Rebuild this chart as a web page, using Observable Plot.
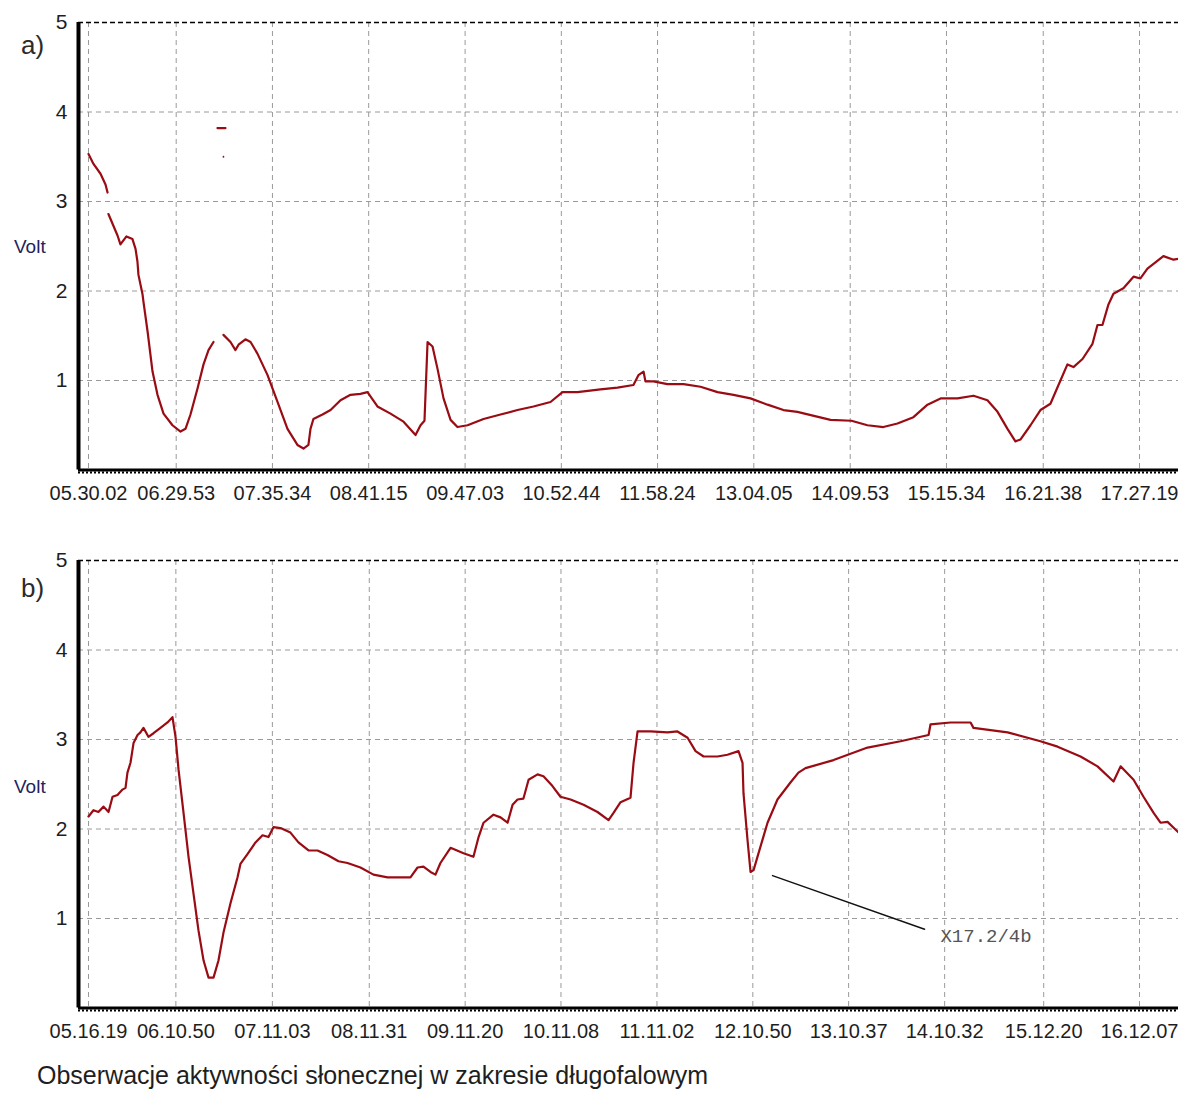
<!DOCTYPE html>
<html>
<head>
<meta charset="utf-8">
<script src="https://cdn.jsdelivr.net/npm/d3@7"></script>
<script src="https://cdn.jsdelivr.net/npm/@observablehq/plot@0.6"></script>
<style>
  html, body { margin: 0; padding: 0; background: #fff; }
  #page { position: relative; width: 1178px; height: 1108px; overflow: hidden; font-family: "Liberation Sans", Arial, sans-serif; }
  .panel { position: absolute; left: 0; }
  .lbl { position: absolute; color: #2b2b2b; white-space: nowrap; }
  .volt { position: absolute; color: #23235e; font-size: 19px; white-space: nowrap; }
  #caption { position: absolute; left: 37px; top: 1061px; font-size: 25px; color: #1e1e1e; white-space: nowrap; }
</style>
</head>
<body>
<div id="page">
  <div class="panel" id="pa" style="top:0px"></div>
  <div class="panel" id="pb" style="top:538px"></div>
  <div class="lbl" style="left:21px; top:30px; font-size:26px;">a)</div>
  <div class="lbl" style="left:21px; top:573px; font-size:26px;">b)</div>
  <div class="volt" style="left:14px; top:236px;">Volt</div>
  <div class="volt" style="left:14px; top:776px;">Volt</div>
  <div id="caption">Obserwacje aktywności słonecznej w zakresie długofalowym</div>
</div>
<script>
// ---------- Panel a: tick labels (clock time) ----------
const ticksA = ["05.30.02","06.29.53","07.35.34","08.41.15","09.47.03","10.52.44","11.58.24","13.04.05","14.09.53","15.15.34","16.21.38","17.27.19"];
// minutes after first tick / volts, one pair of arrays per unbroken piece of the trace
const a1Time = [0,3.4,8.2,11.6,13.0];
const a1Volt = [3.53,3.42,3.31,3.19,3.10];
const a2Time = [13.6,19.8,21.8,25.9,30.0,32.1,33.4,34.1,36.9,37.5,40.3,43.7,47.1,51.2,57.3,62.8,66.2,69.6,74.4,78.5,81.9,85.3];
const a2Volt = [2.86,2.62,2.52,2.61,2.58,2.47,2.33,2.18,1.96,1.88,1.55,1.10,0.84,0.63,0.50,0.43,0.46,0.62,0.91,1.18,1.34,1.43];
const a3Time = [92.1,96.9,100.3,102.4,107.1,110.6,115.3,122.2,129.0,135.8,142.6,146.7,150.1,151.5,153.5,159.7,165.2,172.0,178.8,185.6,190.4,197.2,206.1,215.0,223.2,226.6,229.3,231.4,234.8,238.2,242.3,247.1,251.8,258.7,269.6,281.2,292.8,303.7,315.3,323.5,333.7,349.4,361.0,371.9,375.3,378.8,380.1,385.6,395.1,406.1,417.7,429.3,440.2,451.8,463.4,474.3,483.8,506.4,520.7,531.6,542.5,552.1,563.0,572.6,581.5,593.1,604.0,613.5,620.4,627.2,632.6,636.0,642.9,649.7,656.5,662.0,668.1,672.2,678.4,685.2,688.6,692.0,696.1,699.5,706.3,713.2,717.9,722.7,733.6,740.5,743.9];
const a3Volt = [1.51,1.43,1.34,1.40,1.46,1.43,1.30,1.06,0.76,0.46,0.28,0.24,0.28,0.46,0.57,0.62,0.67,0.78,0.84,0.85,0.87,0.71,0.63,0.54,0.39,0.50,0.55,1.43,1.38,1.13,0.80,0.56,0.48,0.50,0.57,0.62,0.67,0.71,0.76,0.87,0.87,0.90,0.92,0.95,1.06,1.10,0.99,0.99,0.96,0.96,0.93,0.87,0.84,0.80,0.73,0.67,0.65,0.56,0.55,0.50,0.48,0.52,0.59,0.73,0.80,0.80,0.83,0.78,0.65,0.46,0.32,0.34,0.50,0.67,0.74,0.95,1.18,1.15,1.24,1.41,1.62,1.62,1.85,1.97,2.03,2.16,2.14,2.25,2.39,2.35,2.36];
// isolated short blip near 3.8 V and a stray dot
const a4Time = [88.0,93.5];
const a4Volt = [3.82,3.82];
const strayTime = [92.1];
const strayVolt = [3.5];

// ---------- Panel b ----------
const ticksB = ["05.16.19","06.10.50","07.11.03","08.11.31","09.11.20","10.11.08","11.11.02","12.10.50","13.10.37","14.10.32","15.12.20","16.12.07"];
const bTime = [0,3.1,6.2,9.4,12.5,15.0,18.1,21.2,23.1,24.3,26.2,28.1,30.6,32.4,34.3,37.4,40.6,44.9,49.3,52.4,54.3,56.2,59.3,62.4,65.5,68.6,71.8,74.9,78.0,81.1,84.2,88.6,93.0,94.8,99.2,104.2,108.6,112.3,115.4,119.8,126.0,131.0,137.3,142.9,149.1,156.0,161.6,169.7,177.8,186.6,200.9,205.3,209.0,213.4,216.5,219.6,225.9,234.0,240.2,243.4,246.5,252.7,257.1,261.5,264.6,267.7,271.4,274.6,280.2,283.9,289.5,294.5,300.8,308.9,317.6,324.5,327.6,332.0,338.2,340.1,342.6,350.7,361.3,367.5,373.8,378.8,383.8,392.5,398.7,405.6,408.1,408.7,411.2,413.1,415.0,418.1,423.7,429.9,438.0,443.0,447.4,464.9,486.1,506.7,524.2,525.4,537.9,550.4,552.2,573.5,594.0,604.7,619.0,629.6,639.6,644.0,652.1,658.3,664.6,668.9,673.3,680.2];
const bVolt = [2.14,2.21,2.19,2.25,2.19,2.36,2.38,2.44,2.46,2.63,2.74,2.96,3.05,3.08,3.13,3.03,3.07,3.13,3.19,3.25,3.03,2.66,2.18,1.69,1.28,0.87,0.53,0.34,0.34,0.53,0.84,1.17,1.46,1.61,1.72,1.85,1.93,1.91,2.02,2.01,1.96,1.85,1.76,1.76,1.71,1.64,1.62,1.57,1.49,1.46,1.46,1.57,1.58,1.52,1.49,1.62,1.79,1.73,1.69,1.91,2.07,2.16,2.13,2.07,2.27,2.33,2.34,2.55,2.61,2.59,2.48,2.36,2.33,2.27,2.19,2.10,2.18,2.30,2.35,2.74,3.09,3.09,3.08,3.09,3.02,2.87,2.81,2.81,2.83,2.87,2.74,2.40,1.88,1.52,1.54,1.73,2.07,2.33,2.52,2.63,2.68,2.77,2.91,2.98,3.05,3.17,3.19,3.19,3.13,3.08,2.98,2.92,2.81,2.70,2.53,2.70,2.55,2.36,2.18,2.07,2.08,1.96];

// annotation (panel b): leader line start/end and label
const noteText = "X17.2/4b";
const noteLineTime = [426.8, 521.7];
const noteLineVolt = [1.48, 0.88];
const noteLabelTime = 531.6;
const noteLabelVolt = 0.80;

// ---------- helpers ----------
function toMin(s) { const [h, m, sec] = s.split(".").map(Number); return h * 60 + m + sec / 60; }
function tickPositions(labels) { const b = toMin(labels[0]); return labels.map(l => toMin(l) - b); }
const zip = (ts, vs, seg) => ts.map((t, i) => ({t, v: vs[i], seg}));

const posA = tickPositions(ticksA);
const posB = tickPositions(ticksB);
const RED = "#9a0c14";

function makePanel({data, labels, pos, domain, extra = []}) {
  const lab = new Map(pos.map((p, i) => [p, labels[i]]));
  return Plot.plot({
    width: 1178, height: 540,
    marginLeft: 78, marginRight: 0, marginTop: 22, marginBottom: 70.5,
    style: {fontFamily: '"Liberation Sans", Arial, sans-serif', background: "#fff", overflow: "visible"},
    x: {type: "linear", domain},
    y: {domain: [0, 5]},
    marks: [
      Plot.gridX(pos, {stroke: "#9a9a9a", strokeOpacity: 1, strokeDasharray: "5,4", strokeWidth: 1}),
      Plot.gridY([1, 2, 3, 4], {stroke: "#9a9a9a", strokeOpacity: 1, strokeDasharray: "5,4", strokeWidth: 1}),
      Plot.ruleY([5], {stroke: "#000", strokeDasharray: "5,3", strokeWidth: 1.5}),
      Plot.line(data, {x: "t", y: "v", z: "seg", stroke: RED, strokeWidth: 2.2, strokeLinejoin: "round"}),
      ...extra,
      Plot.ruleY([0], {stroke: "#000", strokeWidth: 3}),
      Plot.ruleY([0], {stroke: "#000", strokeWidth: 2, strokeDasharray: "2,2", dy: 2.5}),
      Plot.ruleX([domain[0]], {stroke: "#000", strokeWidth: 4}),
      Plot.axisX(pos, {tickSize: 0, tickPadding: 16, fontSize: 20, fill: "#1e1e1e", tickFormat: d => lab.get(d), label: null}),
      Plot.axisY([1, 2, 3, 4, 5], {tickSize: 0, tickPadding: 11, fontSize: 21, fill: "#1e1e1e", tickFormat: "d", label: null})
    ]
  });
}

const dataA = [...zip(a1Time, a1Volt, 1), ...zip(a2Time, a2Volt, 2), ...zip(a3Time, a3Volt, 3), ...zip(a4Time, a4Volt, 4)];
const dataB = zip(bTime, bVolt, 1);

// pixel scale: ticks span 88..1139 px; axis at 78, right edge 1178
function domainFor(pos) {
  const span = pos[pos.length - 1] - pos[0];
  const k = span / (1139 - 88);
  return [pos[0] - 10 * k, pos[0] + (1178 - 88) * k];
}

document.getElementById("pa").append(makePanel({data: dataA, labels: ticksA, pos: posA, domain: domainFor(posA),
  extra: [Plot.dot(zip(strayTime, strayVolt, 0), {x: "t", y: "v", r: 0.9, fill: RED})]}));
document.getElementById("pb").append(makePanel({data: dataB, labels: ticksB, pos: posB, domain: domainFor(posB),
  extra: [
    Plot.line(zip(noteLineTime, noteLineVolt, 0), {x: "t", y: "v", stroke: "#111", strokeWidth: 1.4}),
    Plot.text([{t: noteLabelTime, v: noteLabelVolt}], {x: "t", y: "v", text: () => noteText, textAnchor: "start", fontFamily: '"Courier New", "Liberation Mono", monospace', fontSize: 19, fill: "#555"})
  ]}));
</script>
</body>
</html>
